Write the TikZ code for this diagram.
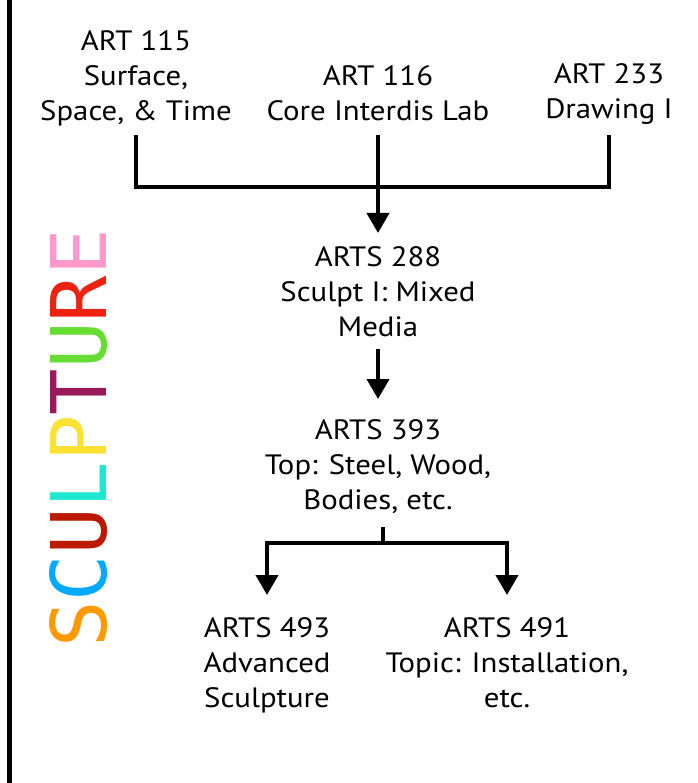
\documentclass[tikz,border=0pt]{standalone}
\usepackage{fontspec}
\setmainfont{PT Sans}
\newfontfamily\coursefont[FakeStretch=1.1]{PT Sans}
\newfontfamily\sculptfont{DejaVu Sans Mono}
\usetikzlibrary{arrows.meta}
\definecolor{cS}{RGB}{255,153,0}
\definecolor{cC}{RGB}{0,170,255}
\definecolor{cU}{RGB}{187,26,0}
\definecolor{cL}{RGB}{30,232,208}
\definecolor{cP}{RGB}{250,225,50}
\definecolor{cT}{RGB}{153,26,90}
\definecolor{cUU}{RGB}{102,221,51}
\definecolor{cR}{RGB}{238,34,17}
\definecolor{cE}{RGB}{255,153,204}
\tikzset{
  course/.style={anchor=north, inner sep=0pt, align=center, font=\coursefont\fontsize{28}{35}\selectfont},
  link/.style={line width=4pt, black},
  arrowlink/.style={link, -{Triangle[width=22pt,length=20pt]}}
}
\begin{document}
\begin{tikzpicture}[x=1pt,y=-1pt]
\useasboundingbox (0,0) rectangle (697,783);
\fill[white] (0,0) rectangle (697,783);
\draw[line width=5pt] (9.2,0) -- (9.2,783);
% vertical title
\node[rotate=90, inner sep=0pt] (title) at (79,438.5) {\resizebox{418pt}{57pt}{\sculptfont\textcolor{cS}{S}\textcolor{cC}{C}\textcolor{cU}{U}\textcolor{cL}{L}\textcolor{cP}{P}\textcolor{cT}{T}\textcolor{cUU}{U}\textcolor{cR}{R}\textcolor{cE}{E}}};
% courses
\node[course] (a115) at (136,30) {ART 115\\Surface,\\Space, \& Time};
\node[course] (a116) at (378,65) {ART 116\\Core Interdis Lab};
\node[course] (a233) at (609,63) {ART 233\\Drawing I};
\node[course] (a288) at (378,246) {ARTS 288\\Sculpt I: Mixed\\Media};
\node[course] (a393) at (378,419) {ARTS 393\\Top: Steel, Wood,\\Bodies, etc.};
\node[course] (a493) at (267,617) {ARTS 493\\Advanced\\Sculpture};
\node[course] (a491) at (507,617) {ARTS 491\\Topic: Installation,\\etc.};
% helper coordinates
\coordinate (top) at (0,135);
\coordinate (bar) at (0,187);
\coordinate (split) at (383,527);
\coordinate (bar2) at (0,543);
% connectors
\draw[link] (a115.south |- top) -- (a115.south |- bar) -- (a233.south |- bar) -- (a233.south |- top);
\draw[arrowlink] (a116.south |- top) -- ([yshift=13pt]a288.north);
\draw[arrowlink] ([yshift=-12pt]a288.south) -- ([yshift=20pt]a393.north);
\draw[link] (split) -- (split |- bar2);
\draw[arrowlink] (split |- bar2) -| ([yshift=22pt]a493.north);
\draw[arrowlink] (split |- bar2) -| ([yshift=22pt]a491.north);
\end{tikzpicture}
\end{document}
